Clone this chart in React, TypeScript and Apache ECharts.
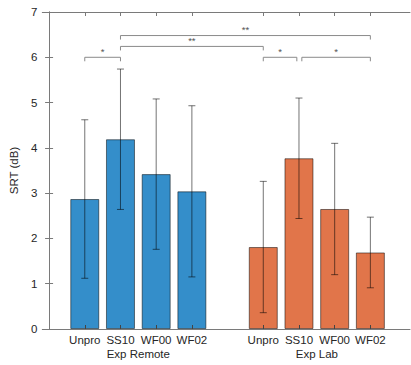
import React, { useEffect, useRef } from "react";
import * as echarts from "echarts";

const categories = ["Unpro", "SS10", "WF00", "WF02"];
const groups = ["Exp Remote", "Exp Lab"];
const remoteMeans = [2.87, 4.19, 3.42, 3.04];
const remoteErr = [1.75, 1.55, 1.66, 1.89];
const labMeans = [1.81, 3.77, 2.65, 1.69];
const labErr = [1.45, 1.33, 1.45, 0.78];
const yTicks = [0, 1, 2, 3, 4, 5, 6, 7];
// significance brackets: from slot, to slot, height (dB), label
const brackets = [
  { from: 1, to: 2, y: 6.0, label: "*" },
  { from: 2, to: 6, y: 6.24, label: "**" },
  { from: 2, to: 9, y: 6.48, label: "**" },
  { from: 6, to: 6.94, y: 6.0, label: "*" },
  { from: 7.08, to: 9, y: 6.0, label: "*" },
];

const remotePos = categories.map((_, i) => i + 1);
const labPos = categories.map((_, i) => i + 6);
const xPositions = [...remotePos, ...labPos];
const groupPos = [2.5, 7.5];

const BLUE = "#348ECA";
const ORANGE = "#E1754A";
const TEXT = "#262626";
const SPINE = "#7a7a7a";
const FONT = "'Liberation Sans', Arial, Helvetica, sans-serif";

export default function App() {
  const ref = useRef<HTMLDivElement>(null);
  useEffect(() => {
    if (!ref.current) return;
    const chart = echarts.init(ref.current, null, { renderer: "svg" });
    const xMin = -0.19;
    const xMax = 10.11;
    const barData = [
      ...remotePos.map((x, i) => ({ value: [x, remoteMeans[i]], itemStyle: { color: BLUE } })),
      ...labPos.map((x, i) => ({ value: [x, labMeans[i]], itemStyle: { color: ORANGE } })),
    ];
    const errData = [
      ...remotePos.map((x, i) => [x, remoteMeans[i], remoteErr[i]]),
      ...labPos.map((x, i) => [x, labMeans[i], labErr[i]]),
    ];
    const bracketData = brackets.map((b) => [b.from, b.to, b.y]);
    const lineStyle = { color: SPINE, width: 1 };
    chart.setOption({
      animation: false,
      textStyle: { fontFamily: FONT },
      grid: { left: 38, right: 1, top: 12, bottom: 36 },
      xAxis: [
        {
          type: "value",
          min: xMin,
          max: xMax,
          position: "bottom",
          offset: 0,
          z: 10,
          axisLine: { show: true, lineStyle },
          axisTick: { show: true, inside: true, length: 4, customValues: xPositions, lineStyle: { color: "#444" } },
          axisLabel: {
            customValues: xPositions,
            formatter: (v: number) => {
              const idx = xPositions.indexOf(v);
              return idx >= 0 ? categories[idx % 4] : "";
            },
            fontSize: 11.5,
            color: TEXT,
            margin: 5,
            fontFamily: FONT,
          },
          splitLine: { show: false },
        },
        {
          type: "value",
          min: xMin,
          max: xMax,
          position: "bottom",
          offset: 0,
          axisLine: { show: false },
          axisTick: { show: false },
          axisLabel: {
            customValues: groupPos,
            formatter: (v: number) => {
              const idx = groupPos.indexOf(v);
              return idx >= 0 ? groups[idx] : "";
            },
            fontSize: 11.5,
            color: TEXT,
            margin: 19,
            fontFamily: FONT,
          },
          splitLine: { show: false },
        },
        {
          type: "value",
          min: xMin,
          max: xMax,
          position: "top",
          offset: 0,
          axisLine: { show: true, lineStyle },
          axisTick: { show: true, inside: true, length: 4, customValues: xPositions, lineStyle },
          axisLabel: { show: false },
          splitLine: { show: false },
        },
      ],
      yAxis: [
        {
          type: "value",
          min: 0,
          max: 7,
          interval: 1,
          position: "left",
          axisLine: { show: true, lineStyle },
          axisTick: { show: true, inside: true, length: 4, customValues: yTicks, lineStyle },
          axisLabel: { fontSize: 11.5, color: TEXT, margin: 5, fontFamily: FONT },
          splitLine: { show: false },
          name: "SRT (dB)",
          nameLocation: "middle",
          nameGap: 22,
          nameTextStyle: { fontSize: 11.5, color: TEXT, fontFamily: FONT },
        },
        {
          type: "value",
          min: 0,
          max: 7,
          interval: 1,
          position: "right",
          axisLine: { show: true, lineStyle },
          axisTick: { show: true, inside: true, length: 4, lineStyle },
          axisLabel: { show: false },
          splitLine: { show: false },
        },
      ],
      series: [
        {
          type: "bar",
          xAxisIndex: 0,
          yAxisIndex: 0,
          barWidth: 29,
          data: barData,
          itemStyle: { borderColor: "rgba(0,0,0,0.5)", borderWidth: 1 },
          z: 2,
        },
        {
          type: "custom",
          xAxisIndex: 0,
          yAxisIndex: 0,
          z: 4,
          data: errData,
          renderItem: (params: any, api: any) => {
            const x = api.value(0);
            const m = api.value(1);
            const e = api.value(2);
            const lo = api.coord([x, m - e]);
            const hi = api.coord([x, m + e]);
            const stroke = { stroke: "rgba(0,0,0,0.55)", lineWidth: 1 };
            const cap = 3.5;
            return {
              type: "group",
              children: [
                { type: "line", shape: { x1: lo[0], y1: lo[1], x2: hi[0], y2: hi[1] }, style: stroke },
                { type: "line", shape: { x1: lo[0] - cap, y1: lo[1], x2: lo[0] + cap, y2: lo[1] }, style: stroke },
                { type: "line", shape: { x1: hi[0] - cap, y1: hi[1], x2: hi[0] + cap, y2: hi[1] }, style: stroke },
              ],
            };
          },
        },
        {
          type: "custom",
          xAxisIndex: 0,
          yAxisIndex: 0,
          z: 4,
          data: bracketData,
          renderItem: (params: any, api: any) => {
            const a = api.coord([api.value(0), api.value(2)]);
            const b = api.coord([api.value(1), api.value(2)]);
            const t = 4;
            const label = brackets[params.dataIndex].label;
            return {
              type: "group",
              children: [
                {
                  type: "polyline",
                  shape: { points: [[a[0], a[1] + t], [a[0], a[1]], [b[0], b[1]], [b[0], b[1] + t]] },
                  style: { stroke: "#8a8a8a", lineWidth: 1, fill: "none" },
                },
                {
                  type: "text",
                  x: (a[0] + b[0]) / 2,
                  y: a[1] - 1,
                  style: {
                    text: label,
                    fontSize: 9.5,
                    fontFamily: FONT,
                    fill: "#555",
                    align: "center",
                    verticalAlign: "bottom",
                  },
                },
              ],
            };
          },
        },
      ],
    });
    return () => chart.dispose();
  }, []);
  return (
    <div
      ref={ref}
      style={{ position: "fixed", left: 0, top: 0, width: 411, height: 365, background: "#fff" }}
    />
  );
}
